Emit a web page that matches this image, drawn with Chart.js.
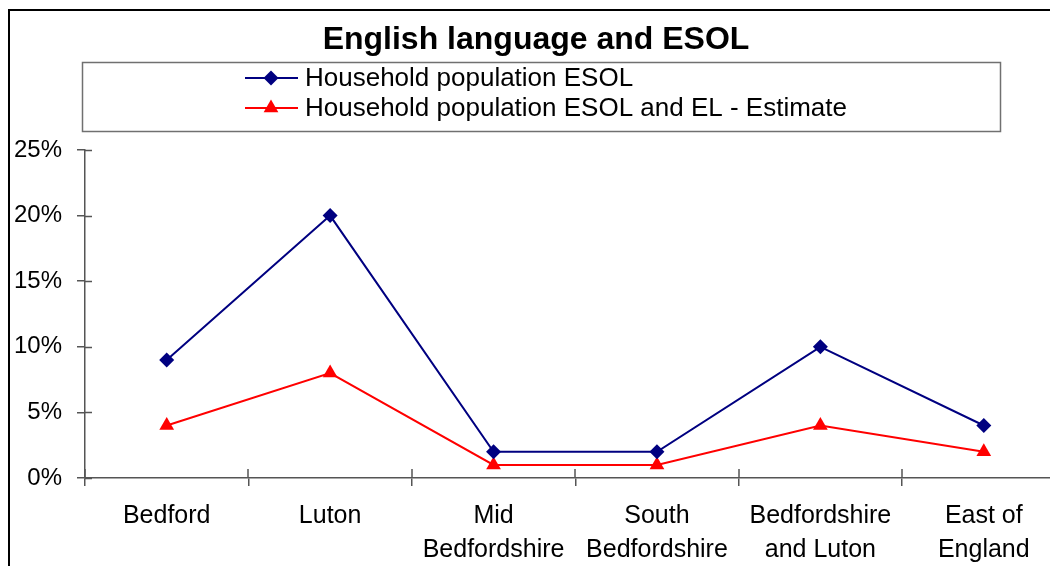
<!DOCTYPE html>
<html>
<head>
<meta charset="utf-8">
<title>English language and ESOL</title>
<script src="https://cdn.jsdelivr.net/npm/chart.js@4/dist/chart.umd.min.js"></script>
<style>
  html, body { margin: 0; padding: 0; background: #fff; overflow: hidden; }
  #wrap { position: absolute; left: 0; top: 0; width: 1074px; height: 566px; }
</style>
</head>
<body>
<div id="wrap"><canvas id="esolChart" width="1074" height="566"></canvas></div>
<script>
// English language and ESOL – share of household population, by area

const areas = [
  ["Bedford"],
  ["Luton"],
  ["Mid", "Bedfordshire"],
  ["South", "Bedfordshire"],
  ["Bedfordshire", "and Luton"],
  ["East of", "England"]
];
const esol = [9, 20, 2, 2, 10, 4];
const esolEstimate = [4, 8, 1, 1, 4, 2];
const seriesNames = ["Household population ESOL", "Household population ESOL and EL - Estimate"];
const yTicks = [0, 5, 10, 15, 20, 25];

const FONT = "'Liberation Sans', Arial, sans-serif";
const AXIS = "#555";

// frame, title and boxed legend drawn straight onto the canvas
const decor = {
  id: "decor",
  beforeDraw(chart) {
    const ctx = chart.ctx;
    ctx.save();
    ctx.fillStyle = "#fff";
    ctx.fillRect(0, 0, chart.width, chart.height);
    ctx.strokeStyle = "#000";
    ctx.lineWidth = 2;
    ctx.beginPath();
    ctx.moveTo(9, chart.height);
    ctx.lineTo(9, 10);
    ctx.lineTo(chart.width, 10);
    ctx.stroke();
    ctx.restore();
  },
  afterDraw(chart) {
    const ctx = chart.ctx;
    ctx.save();
    // title
    ctx.fillStyle = "#000";
    ctx.font = "bold 32px " + FONT;
    ctx.textAlign = "center";
    ctx.textBaseline = "middle";
    ctx.fillText("English language and ESOL", 536, 40);

    // legend box
    ctx.strokeStyle = "#707070";
    ctx.lineWidth = 1.5;
    ctx.strokeRect(82.5, 62.5, 918, 69);
    ctx.font = "26px " + FONT;
    ctx.textAlign = "left";
    chart.data.datasets.forEach((ds, i) => {
      const y = 78 + i * 30;
      ctx.strokeStyle = ds.borderColor;
      ctx.lineWidth = 2;
      ctx.beginPath();
      ctx.moveTo(245, y);
      ctx.lineTo(298, y);
      ctx.stroke();
      ctx.fillStyle = ds.pointBackgroundColor;
      Chart.helpers.drawPoint(ctx, {
        pointStyle: ds.pointStyle, radius: ds.pointRadius, borderWidth: 0, rotation: 0
      }, 271, y);
      ctx.fillStyle = "#000";
      ctx.fillText(ds.label, 305, y + 1);
    });

    // inward halves of the tick marks
    const { x, y } = chart.scales;
    ctx.strokeStyle = AXIS;
    ctx.lineWidth = 1.5;
    ctx.beginPath();
    yTicks.forEach(v => {
      const py = Math.round(y.getPixelForValue(v)) + 0.5;
      ctx.moveTo(x.left, py);
      ctx.lineTo(x.left + 7, py);
    });
    for (let i = 0; i <= areas.length; i++) {
      const px = Math.round(x.left + (x.right - x.left) * i / areas.length);
      ctx.moveTo(px, y.bottom);
      ctx.lineTo(px, y.bottom - 9);
    }
    ctx.stroke();
    ctx.restore();
  }
};

new Chart(document.getElementById("esolChart"), {
  type: "line",
  data: {
    labels: areas,
    datasets: [
      {
        label: seriesNames[0],
        data: esol,
        borderColor: "#000080",
        backgroundColor: "#000080",
        pointBackgroundColor: "#000080",
        pointBorderColor: "#000080",
        pointStyle: "rectRot",
        pointRadius: 7.5,
        pointBorderWidth: 0,
        borderWidth: 2,
        tension: 0
      },
      {
        label: seriesNames[1],
        data: esolEstimate,
        borderColor: "#ff0000",
        backgroundColor: "#ff0000",
        pointBackgroundColor: "#ff0000",
        pointBorderColor: "#ff0000",
        pointStyle: "triangle",
        pointRadius: 8.5,
        pointBorderWidth: 0,
        borderWidth: 2,
        tension: 0
      }
    ]
  },
  options: {
    responsive: false,
    animation: false,
    layout: { padding: { top: 150, left: 0, right: 0, bottom: 0 } },
    plugins: {
      legend: { display: false },
      title: { display: false },
      tooltip: { enabled: false }
    },
    scales: {
      x: {
        offset: true,
        grid: { offset: true, drawOnChartArea: false, color: AXIS, lineWidth: 1.5, tickLength: 8 },
        border: { color: AXIS, width: 1.5 },
        ticks: {
          color: "#000",
          font: { family: FONT, size: 25, lineHeight: 1.36 },
          padding: 13,
          maxRotation: 0,
          autoSkip: false
        },
        afterFit(scale) { scale.height = 88; }
      },
      y: {
        min: 0,
        max: 25,
        afterBuildTicks(scale) { scale.ticks = yTicks.map(v => ({ value: v })); },
        grid: { drawOnChartArea: false, color: AXIS, lineWidth: 1.5, tickLength: 8 },
        border: { color: AXIS, width: 1.5 },
        ticks: {
          color: "#000",
          font: { family: FONT, size: 24 },
          padding: 15,
          callback: v => v + "%"
        },
        afterFit(scale) { scale.width = 85; }
      }
    }
  },
  plugins: [decor]
});
</script>
</body>
</html>
